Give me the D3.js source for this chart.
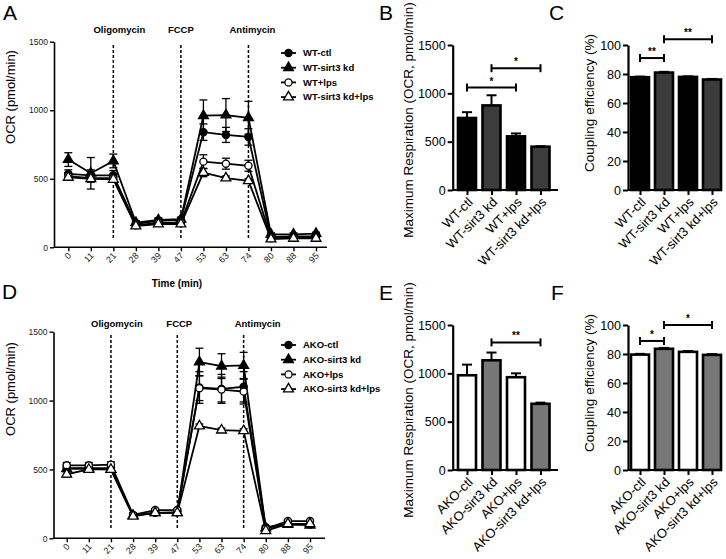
<!DOCTYPE html>
<html><head><meta charset="utf-8">
<script src="https://cdn.jsdelivr.net/npm/d3@7"></script>
<style>
body{margin:0;background:#fff}
svg{display:block}
text{font-family:"Liberation Sans",Arial,Helvetica,sans-serif}
</style>
</head><body>
<svg id="chart" width="726" height="559"></svg>
<script>
// ---------- DATA ----------
const times = ["0","11","21","28","39","47","53","63","74","80","88","95"];
const treatments = ["Oligomycin","FCCP","Antimycin"];
const treatmentTimes = ["21","47","74"];
const ocrTicks = [0,500,1000,1500];

// Panel A (WT)
const wtNames = ["WT-ctl","WT-sirt3 kd","WT+lps","WT-sirt3 kd+lps"];
const wtCtl      = [535,525,525,170,195,200,840,820,805,75,80,80];
const wtCtlErr   = [30,40,35,15,15,15,60,55,60,10,10,10];
const wtKd       = [640,540,630,180,200,205,960,965,945,95,95,100];
const wtKdErr    = [50,115,50,15,15,15,115,120,120,10,10,10];
const wtLps      = [520,505,505,160,180,180,625,610,595,65,70,70];
const wtLpsErr   = [25,30,30,10,10,10,50,40,40,10,10,10];
const wtKdLps    = [510,500,495,155,170,170,545,505,485,60,65,65];
const wtKdLpsErr = [20,20,20,10,10,10,30,15,15,5,5,5];

// Panel D (AKO)
const akoNames = ["AKO-ctl","AKO-sirt3 kd","AKO+lps","AKO-sirt3 kd+lps"];
const akoCtl      = [510,510,510,170,185,190,1095,1085,1100,80,105,100];
const akoCtlErr   = [25,25,25,15,15,15,115,105,110,10,10,10];
const akoKd       = [505,505,500,165,185,185,1280,1250,1255,75,100,95];
const akoKdErr    = [20,20,20,10,10,10,100,90,95,10,10,10];
const akoLps      = [530,530,535,170,205,205,1090,1080,1065,70,125,125];
const akoLpsErr   = [20,20,20,10,10,10,90,90,90,10,10,10];
const akoKdLps    = [465,500,500,160,185,185,815,785,780,55,105,105];
const akoKdLpsErr = [20,20,20,10,10,10,15,15,15,5,5,5];

// Bar panels
const maxRespTicks = [0,500,1000,1500];
const couplingTicks = [0,20,40,60,80,100];
const wtMaxResp = [745,875,555,448];
const wtMaxRespErr = [60,105,30,5];
const wtCoupling = [77.8,81.0,78.0,76.2];
const wtCouplingErr = [0.4,0.5,0.4,0.4];
const akoMaxResp = [980,1135,960,685];
const akoMaxRespErr = [110,80,40,12];
const akoCoupling = [79.6,83.6,81.5,79.4];
const akoCouplingErr = [0.5,0.6,0.5,0.5];

// significance brackets: [fromIndex, toIndex, level, label]
const wtMaxRespSig = [[0,2,1060,"*"],[1,3,1260,"*"]];
const wtCouplingSig = [[0,1,91,"**"],[1,3,104,"**"]];
const akoMaxRespSig = [[1,3,1320,"**"]];
const akoCouplingSig = [[0,1,89,"*"],[1,3,100,"*"]];

// ---------- DRAWING ----------
const svg = d3.select("#chart");
const FONT = '"Liberation Sans",Arial,Helvetica,sans-serif';
const fmt = d3.format("d");

function panelLetter(t, x, y){
  svg.append("text").attr("x",x).attr("y",y).attr("font-size",21).text(t);
}

function drawLinePanel(cfg){
  const g = svg.append("g");
  const x = d3.scalePoint().domain(times).range([cfg.x0, cfg.x1]);
  const y = d3.scaleLinear().domain([0,1500]).range([cfg.yb, cfg.yt]);

  const ya = g.append("g").attr("transform",`translate(${cfg.ax},0)`)
    .call(d3.axisLeft(y).tickValues(ocrTicks).tickFormat(fmt).tickSize(4).tickSizeOuter(0).tickPadding(2));
  ya.select(".domain").attr("stroke-width",1.6);
  ya.selectAll(".tick line").attr("stroke-width",1.4);
  ya.selectAll("text").attr("font-size",8.5).attr("font-family",FONT).attr("fill","#222");

  const xa = g.append("g").attr("transform",`translate(0,${cfg.yb})`)
    .call(d3.axisBottom(x).tickSize(4).tickSizeOuter(0));
  xa.select(".domain").attr("d",`M${cfg.ax},0H${cfg.axEnd}`).attr("stroke-width",1.6);
  xa.selectAll(".tick line").attr("stroke-width",1.4);
  xa.selectAll("text").attr("font-size",9).attr("font-family",FONT).attr("fill","#222")
    .attr("text-anchor","end").attr("dy",0).attr("y",0)
    .attr("transform","translate(3,9) rotate(-45)");

  treatmentTimes.forEach((t,i)=>{
    g.append("line").attr("x1",x(t)).attr("x2",x(t))
      .attr("y1",cfg.dashTop).attr("y2",cfg.dashBot)
      .attr("stroke","#000").attr("stroke-width",1.5).attr("stroke-dasharray","3,2");
    g.append("text").attr("x",x(t)+cfg.tOff[i]).attr("y",cfg.treatY)
      .attr("text-anchor","middle").attr("font-size",9.5).attr("font-weight","bold")
      .text(treatments[i]);
  });

  const line = d3.line().x((d,i)=>x(times[i])).y(d=>y(d));
  cfg.series.forEach(s=>{
    g.append("path").attr("d",line(s.values)).attr("fill","none")
      .attr("stroke","#000").attr("stroke-width",1.8);
  });
  cfg.series.forEach(s=>{
    s.values.forEach((v,i)=>{
      const e = s.errors[i], cx = x(times[i]);
      g.append("line").attr("x1",cx).attr("x2",cx).attr("y1",y(v-e)).attr("y2",y(v+e))
        .attr("stroke","#000").attr("stroke-width",1.3);
      [v-e,v+e].forEach(w=>g.append("line").attr("x1",cx-4).attr("x2",cx+4)
        .attr("y1",y(w)).attr("y2",y(w)).attr("stroke","#000").attr("stroke-width",1.3));
    });
  });
  cfg.series.forEach(s=>{
    const sym = d3.symbol().type(s.symbol).size(s.symbol===d3.symbolCircle?40:42);
    s.values.forEach((v,i)=>{
      g.append("path").attr("d",sym()).attr("transform",`translate(${x(times[i])},${y(v)})`)
        .attr("fill",s.fill).attr("stroke","#000").attr("stroke-width",1.3);
    });
  });

  cfg.series.forEach((s,i)=>{
    const ly = cfg.legY + i*14.7;
    g.append("line").attr("x1",cfg.legX).attr("x2",cfg.legX+15).attr("y1",ly).attr("y2",ly)
      .attr("stroke","#000").attr("stroke-width",1.8);
    const sym = d3.symbol().type(s.symbol).size(s.symbol===d3.symbolCircle?40:42);
    g.append("path").attr("d",sym()).attr("transform",`translate(${cfg.legX+7.5},${ly})`)
      .attr("fill",s.fill).attr("stroke","#000").attr("stroke-width",1.3);
    g.append("text").attr("x",cfg.legX+22).attr("y",ly).attr("dy","0.35em")
      .attr("font-size",9.5).attr("font-weight","bold").text(s.name);
  });

  g.append("text").attr("transform",`translate(${cfg.ylabX},${cfg.ylabY}) rotate(-90)`)
    .attr("text-anchor","middle").attr("font-size",13).text("OCR (pmol/min)");
  if(cfg.timeLabel){
    g.append("text").attr("x",cfg.timeLabel[0]).attr("y",cfg.timeLabel[1])
      .attr("text-anchor","middle").attr("font-size",10).attr("font-weight","bold").text("Time (min)");
  }
}

function drawBarPanel(cfg){
  const g = svg.append("g");
  const x = d3.scalePoint().domain(cfg.cats).range([cfg.c0, cfg.c1]);
  const y = d3.scaleLinear().domain([0,cfg.max]).range([cfg.yb, cfg.yt]);

  cfg.values.forEach((v,i)=>{
    const cx = x(cfg.cats[i]);
    const e = cfg.errors[i];
    g.append("line").attr("x1",cx).attr("x2",cx).attr("y1",y(v)).attr("y2",y(v+e))
      .attr("stroke","#000").attr("stroke-width",2);
    g.append("line").attr("x1",cx-5).attr("x2",cx+5).attr("y1",y(v+e)).attr("y2",y(v+e))
      .attr("stroke","#000").attr("stroke-width",2);
    g.append("rect").attr("x",cx-9).attr("width",18).attr("y",y(v)).attr("height",y(0)-y(v))
      .attr("fill",cfg.fills[i]).attr("stroke","#000").attr("stroke-width",2.6);
  });

  const ya = g.append("g").attr("transform",`translate(${cfg.ax},0)`)
    .call(d3.axisLeft(y).tickValues(cfg.ticks).tickFormat(fmt).tickSize(5).tickSizeOuter(0).tickPadding(2));
  ya.select(".domain").attr("stroke-width",2.2);
  ya.selectAll(".tick line").attr("stroke-width",2);
  ya.selectAll("text").attr("font-size",12.5).attr("font-family",FONT).attr("fill","#000");

  const xa = g.append("g").attr("transform",`translate(0,${cfg.yb})`)
    .call(d3.axisBottom(x).tickSize(5).tickSizeOuter(0));
  xa.select(".domain").attr("d",`M${cfg.ax},0H${cfg.axEnd}`).attr("stroke-width",2.2);
  xa.selectAll(".tick line").attr("stroke-width",2);
  xa.selectAll("text").attr("font-size",13).attr("font-family",FONT).attr("fill","#000")
    .attr("text-anchor","end").attr("dy",0).attr("y",0)
    .attr("transform","translate(6,13) rotate(-45)");

  cfg.sig.forEach(s=>{
    const xa1 = x(cfg.cats[s[0]]), xa2 = x(cfg.cats[s[1]]), yy = y(s[2]);
    g.append("line").attr("x1",xa1).attr("x2",xa2).attr("y1",yy).attr("y2",yy)
      .attr("stroke","#000").attr("stroke-width",2);
    [xa1,xa2].forEach(xx=>g.append("line").attr("x1",xx).attr("x2",xx)
      .attr("y1",yy-4).attr("y2",yy+4).attr("stroke","#000").attr("stroke-width",2));
    g.append("text").attr("x",(xa1+xa2)/2).attr("y",yy-3).attr("text-anchor","middle")
      .attr("font-size",10).attr("font-weight","bold").text(s[3]);
  });

  g.append("text").attr("transform",`translate(${cfg.ylabX},${cfg.ylabY}) rotate(-90)`)
    .attr("text-anchor","middle").attr("font-size",13.5).text(cfg.ylabel);
}

drawLinePanel({
  x0:68.3, x1:316, yb:247.3, yt:41.7, ax:54, axEnd:327,
  dashTop:45, dashBot:240, treatY:33, tOff:[6,0,4],
  legX:281, legY:53, ylabX:15, ylabY:97, timeLabel:[177,287],
  series:[
    {name:wtNames[0], values:wtCtl, errors:wtCtlErr, symbol:d3.symbolCircle, fill:"#000"},
    {name:wtNames[1], values:wtKd, errors:wtKdErr, symbol:d3.symbolTriangle, fill:"#000"},
    {name:wtNames[2], values:wtLps, errors:wtLpsErr, symbol:d3.symbolCircle, fill:"#fff"},
    {name:wtNames[3], values:wtKdLps, errors:wtKdLpsErr, symbol:d3.symbolTriangle, fill:"#fff"}
  ]
});
drawLinePanel({
  x0:66.7, x1:310, yb:538.3, yt:331.7, ax:53.5, axEnd:325,
  dashTop:335, dashBot:530, treatY:327, tOff:[6,2,14],
  legX:281, legY:345, ylabX:15, ylabY:389, timeLabel:null,
  series:[
    {name:akoNames[0], values:akoCtl, errors:akoCtlErr, symbol:d3.symbolCircle, fill:"#000"},
    {name:akoNames[1], values:akoKd, errors:akoKdErr, symbol:d3.symbolTriangle, fill:"#000"},
    {name:akoNames[2], values:akoLps, errors:akoLpsErr, symbol:d3.symbolCircle, fill:"#fff"},
    {name:akoNames[3], values:akoKdLps, errors:akoKdLpsErr, symbol:d3.symbolTriangle, fill:"#fff"}
  ]
});

drawBarPanel({cats:wtNames, values:wtMaxResp, errors:wtMaxRespErr, max:1500, ticks:maxRespTicks,
  c0:467, c1:540.5, yb:190, yt:45, ax:452.7, axEnd:558,
  fills:["#000","#3c3c3c","#000","#3c3c3c"], sig:wtMaxRespSig,
  ylabel:"Maximum Respiration (OCR, pmol/min)", ylabX:413, ylabY:120});
drawBarPanel({cats:wtNames, values:wtCoupling, errors:wtCouplingErr, max:100, ticks:couplingTicks,
  c0:640, c1:712, yb:190, yt:45, ax:628, axEnd:721,
  fills:["#000","#3c3c3c","#000","#3c3c3c"], sig:wtCouplingSig,
  ylabel:"Coupling efficiency (%)", ylabX:594, ylabY:103});
drawBarPanel({cats:akoNames, values:akoMaxResp, errors:akoMaxRespErr, max:1500, ticks:maxRespTicks,
  c0:467, c1:540.5, yb:470, yt:325, ax:452.7, axEnd:558,
  fills:["#fff","#777","#fff","#777"], sig:akoMaxRespSig,
  ylabel:"Maximum Respiration (OCR, pmol/min)", ylabX:413, ylabY:400});
drawBarPanel({cats:akoNames, values:akoCoupling, errors:akoCouplingErr, max:100, ticks:couplingTicks,
  c0:640, c1:712, yb:470, yt:325, ax:628, axEnd:721,
  fills:["#fff","#777","#fff","#777"], sig:akoCouplingSig,
  ylabel:"Coupling efficiency (%)", ylabX:594, ylabY:383});

panelLetter("A",3,20);
panelLetter("B",379,20);
panelLetter("C",549,20);
panelLetter("D",2,299);
panelLetter("E",379,300);
panelLetter("F",551,300);
</script>
</body></html>
